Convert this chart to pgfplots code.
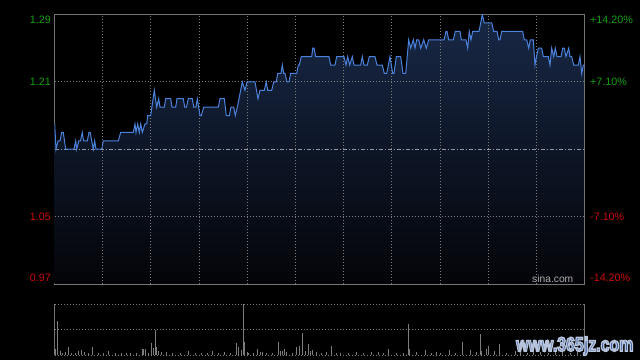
\documentclass[border=0pt]{standalone}
\usepackage{pgfplots}
\pgfplotsset{compat=1.18}
\usepackage{pgfplotstable}
\usepackage{graphicx}
\usepackage{fontspec}
\setmainfont{Liberation Sans}
\definecolor{gup}{RGB}{20,160,20}
\definecolor{rdn}{RGB}{205,10,10}
\definecolor{framec}{RGB}{115,115,115}
\definecolor{gridc}{RGB}{125,125,125}
\definecolor{basec}{RGB}{150,150,165}
\definecolor{linec}{RGB}{75,130,220}
\definecolor{filltop}{RGB}{24,40,70}
\definecolor{fillbot}{RGB}{3,4,8}
\definecolor{volc}{RGB}{125,125,125}
\definecolor{wmblue}{RGB}{45,85,155}

\pgfplotstableread{
x p
54.7 1.16
56 1.13
58 1.14
60 1.14
61.7 1.15
63.3 1.15
65.7 1.13
74 1.13
75.7 1.14
76.7 1.13
78.7 1.14
80.5 1.14
82.3 1.15
83.5 1.14
87.3 1.14
89 1.15
90.3 1.15
91.7 1.14
93.3 1.13
94.7 1.14
96 1.13
101.7 1.13
103.3 1.14
118.3 1.14
120.7 1.15
133.3 1.15
135 1.16
136 1.15
137.7 1.16
139.3 1.15
140.7 1.16
142.3 1.15
145 1.16
146.7 1.16
147.7 1.17
150.7 1.17
154.3 1.20
156.7 1.18
158.7 1.19
160 1.18
164.3 1.18
165.7 1.19
170.7 1.19
172 1.18
175.7 1.18
177 1.19
183.3 1.19
184.7 1.18
186.5 1.18
188.3 1.19
192.3 1.19
193.7 1.18
196 1.18
197.3 1.19
200 1.17
201.3 1.17
203.7 1.18
218.3 1.18
220 1.19
224.3 1.19
226.3 1.17
229.3 1.17
231 1.18
233.7 1.18
235.3 1.17
237.3 1.18
239 1.19
242.3 1.21
245 1.20
247 1.21
255 1.21
258 1.19
260 1.20
264.3 1.20
266.3 1.21
267.7 1.20
271.7 1.20
273.7 1.21
276.3 1.21
277.7 1.22
281 1.22
282.3 1.23
283.7 1.22
285 1.22
287 1.21
289 1.21
290.7 1.22
296.7 1.22
298.3 1.23
299.3 1.23
301.3 1.24
311.7 1.24
312.7 1.25
314 1.25
315.7 1.24
329 1.24
330.7 1.23
335 1.23
336.7 1.24
344 1.24
346 1.23
347.7 1.24
349.7 1.23
352.3 1.24
354 1.23
360.7 1.23
362.3 1.24
364 1.23
367.3 1.23
369.3 1.24
375 1.24
377 1.23
382.3 1.23
384.3 1.22
386.7 1.22
390 1.24
392.7 1.22
394 1.22
396.3 1.24
400.7 1.24
403 1.22
405.7 1.22
408.7 1.26
410.7 1.25
413.3 1.26
415 1.25
416.7 1.26
418.7 1.26
420.7 1.25
423.7 1.26
426.3 1.25
428.7 1.26
444 1.26
446 1.27
447 1.27
448.7 1.26
453.3 1.26
455.3 1.27
460 1.27
461.3 1.26
466 1.26
467.7 1.25
469.3 1.27
471 1.26
472.7 1.27
479 1.27
480.7 1.28
482.3 1.29
484.3 1.28
491.7 1.28
493.7 1.27
497 1.27
498.7 1.26
500 1.26
501.7 1.27
522.7 1.27
524.3 1.26
526.7 1.26
528.7 1.25
530.3 1.26
533.3 1.26
535 1.23
536.5 1.24
538.3 1.25
541.7 1.25
543.3 1.24
548.3 1.24
550 1.23
551.7 1.25
553.7 1.24
555.3 1.25
557 1.24
561 1.24
562.7 1.25
564.3 1.25
566 1.24
568.7 1.25
570 1.24
571.7 1.24
573.7 1.23
578.3 1.23
580 1.24
581.7 1.22
583.3 1.23
584.5 1.23
}\price

\pgfplotstableread{
x v
55 6
57.3 34
60 4
62.3 2
65.3 3
68.3 8
71.7 2
75 2
78.3 4
81.3 5
84.3 3
88 2
92.3 8
98 2
103 2
108.3 4
115 2
121.7 2
126 2
130 2
136 2
142.3 6
143.5 6
145.3 6
148 2
151.3 12
153.3 7
155.3 25
156.7 8
158.7 4
161.7 3
166.7 3
172.3 2
180 2
188.3 4
195 2
201.7 2
207 2
212 4
218 2
224.3 3
230 2
236 12
238.3 8
241 5
243.3 51
244.3 13
247.3 3
248.7 2
253 2
257.3 6
260 3
262.3 3
266.7 2
272 2
278.3 13
280.7 4
282.7 4
284.7 6
286.7 3
292 2
296 8
299 9
302 22
305.3 4
308.3 11
310.7 4
312.7 5
316.7 3
321.7 2
326.7 3
331.7 9
336 2
340 2
348.3 2
356 3
363.3 2
371.7 3
378.3 3
383.3 2
388.3 6
396.7 2
403.3 2
408.3 31
409.3 6
416.7 3
425.3 5
431 2
436 3
440 2
449.3 5
455 2
462.7 13
470 5
476.7 3
480.7 21
481.7 4
486 6
488.3 9
494 4
499.3 11
506.7 2
515 4
520 3
527 2
533 5
540 3
548 2
555 4
562 3
570 2
577 4
583 3
}\vol

\begin{document}
\begin{tikzpicture}
\fill[black] (0bp,0bp) rectangle (640bp,360bp);
\useasboundingbox (0bp,0bp) rectangle (640bp,360bp);

% main price panel
\begin{axis}[
  at={(54.5bp,76bp)}, anchor=south west,
  scale only axis, width=530bp, height=269.5bp,
  xmin=54.5, xmax=584.5, ymin=0.97, ymax=1.29,
  ticks=none,
  axis line style={draw=framec, line width=0.8bp},
]
\addplot[draw=none, top color=filltop, bottom color=fillbot]
  table[x=x,y=p]{\price} -- (axis cs:584.5,0.97) -- (axis cs:54.7,0.97) -- cycle;
\pgfplotsinvokeforeach{102.68,150.86,199.05,247.23,295.41,343.59,391.77,439.95,488.14,536.32}{
  \draw[gridc, line width=0.8bp, dash pattern=on 1bp off 2bp] (axis cs:#1,0.97) -- (axis cs:#1,1.29);
}
\pgfplotsinvokeforeach{1.05,1.21}{
  \draw[gridc, line width=0.8bp, dash pattern=on 1bp off 2bp] (axis cs:54.5,#1) -- (axis cs:584.5,#1);
}
\draw[basec, line width=0.8bp, dash pattern=on 4bp off 2bp on 1bp off 2bp] (axis cs:54.5,1.13) -- (axis cs:584.5,1.13);
\addplot[linec, line width=1bp, mark=none] table[x=x,y=p]{\price};
\end{axis}

% volume panel
\begin{axis}[
  at={(54.5bp,5bp)}, anchor=south west,
  scale only axis, width=530bp, height=51bp,
  xmin=54.5, xmax=584.5, ymin=0, ymax=51,
  ticks=none, axis line style={draw=none}, clip=false,
]
\draw[gridc, line width=0.8bp, dash pattern=on 1bp off 2bp] (axis cs:54.5,51) -- (axis cs:584.5,51);
\draw[gridc, line width=0.8bp, dash pattern=on 1bp off 2bp] (axis cs:54.5,25.5) -- (axis cs:584.5,25.5);
\draw[gridc, line width=0.8bp, dash pattern=on 1bp off 2bp] (axis cs:54.5,0) -- (axis cs:584.5,0);
\draw[framec, line width=0.8bp] (axis cs:54.5,0) -- (axis cs:54.5,51);
\draw[framec, line width=0.8bp] (axis cs:584.5,0) -- (axis cs:584.5,51);
\addplot[ycomb, volc, line width=0.9bp, mark=none] table[x=x,y=v]{\vol};
\end{axis}

% tick labels
\begin{scope}[x=1bp,y=1bp,every node/.style={inner sep=0pt, font=\fontsize{10.8}{12}\selectfont}]
\node[anchor=east, text=gup] at (51,340) {1.29};
\node[anchor=east, text=gup] at (51,278.3) {1.21};
\node[anchor=east, text=rdn] at (51,143.3) {1.05};
\node[anchor=east, text=rdn] at (51,82.3) {0.97};
\node[anchor=west, text=gup] at (590,340) {+14.20\%};
\node[anchor=west, text=gup] at (590,278.3) {+7.10\%};
\node[anchor=west, text=rdn] at (590,143.3) {-7.10\%};
\node[anchor=west, text=rdn] at (590,82.3) {-14.20\%};
\node[anchor=west, text={rgb,255:red,175;green,175;blue,175}, font=\fontsize{10.3}{12}\selectfont] at (532,80.7) {sina.com};
\node[anchor=west, text=wmblue, font=\bfseries\fontsize{20}{20}\selectfont] at (516,14) {\special{pdf:literal direct 2 Tr 1.6 w 0.72 0.77 0.86 RG}\scalebox{0.8}[1]{www.365jz.com}\special{pdf:literal direct 0 Tr}};
\end{scope}
\end{tikzpicture}
\end{document}
